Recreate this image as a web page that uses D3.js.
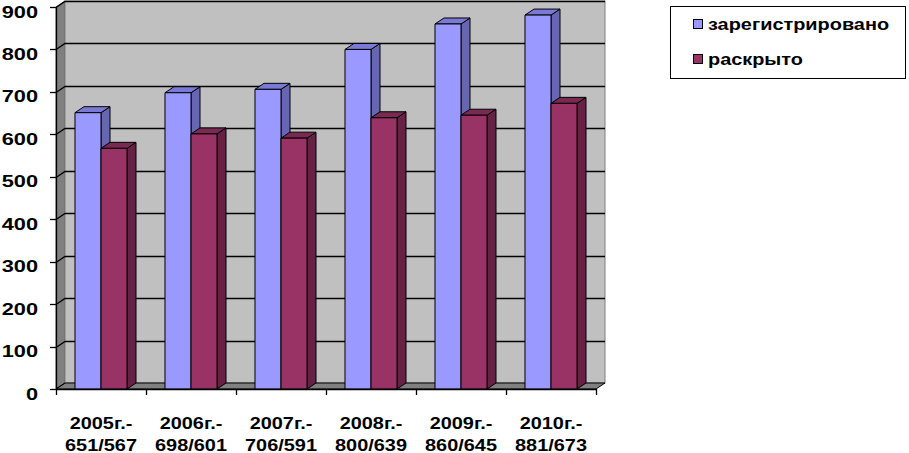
<!DOCTYPE html>
<html><head><meta charset="utf-8">
<script src="https://cdn.jsdelivr.net/npm/d3@7"></script>
<style>
html,body{margin:0;padding:0;background:#fff;}
svg{display:block;}
text{font-family:Arial,"Liberation Sans",sans-serif;font-weight:bold;font-size:17px;fill:#000;}
</style></head>
<body>
<svg id="chart" width="909" height="453"></svg>
<script>
const categoriesLine1 = ["2005г.-","2006г.-","2007г.-","2008г.-","2009г.-","2010г.-"];
const categoriesLine2 = ["651/567","698/601","706/591","800/639","860/645","881/673"];
const registered = [651, 698, 706, 800, 860, 881];
const solved = [567, 601, 591, 639, 645, 673];
const seriesNames = ["зарегистрировано", "раскрыто"];
const yTicks = [0,100,200,300,400,500,600,700,800,900];

const colors = {
  "зарегистрировано": {front:"#9999FF", side:"#6666B3", top:"#7A7AD6"},
  "раскрыто": {front:"#993366", side:"#662244", top:"#7A2952"}
};

const svg = d3.select("#chart");
const DX = 9, DY = -6;
const SX = 1.17;
const SXY = 1.28;

const x0 = d3.scaleBand().domain(d3.range(categoriesLine1.length)).range([56, 596]).padding(0);
const x1 = d3.scaleBand().domain(seriesNames).range([0, x0.bandwidth()]).paddingInner(0).paddingOuter(0.73);
const y = d3.scaleLinear().domain([0, 900]).range([389, 7]);

const left = 56, right = 596, y0 = y(0), yTop = y(900);

// left wall
svg.append("polygon")
  .attr("points", [[left, yTop],[left+DX, yTop+DY],[left+DX, y0+DY],[left, y0]].join(" "))
  .attr("fill", "#808080").attr("stroke", "#555").attr("stroke-width", 1);
// back wall
svg.append("rect")
  .attr("x", left+DX).attr("y", yTop+DY)
  .attr("width", right-left).attr("height", y0-yTop)
  .attr("fill", "#C0C0C0").attr("stroke", "#808080").attr("stroke-width", 1);
// floor
svg.append("polygon")
  .attr("points", [[left, y0],[left+DX, y0+DY],[right+DX, y0+DY],[right, y0]].join(" "))
  .attr("fill", "#808080").attr("stroke", "#000").attr("stroke-width", 1);

// gridlines
const grid = svg.append("g");
yTicks.forEach(t => {
  if (t === 0) return;
  const yy = Math.round(y(t)) + 0.5;
  grid.append("polyline")
    .attr("points", [[left, yy],[left+DX, yy+DY],[right+DX, yy+DY]].join(" "))
    .attr("fill", "none").attr("stroke", "#000").attr("stroke-width", 1.3);
});
grid.append("line").attr("x1", left).attr("y1", y0).attr("x2", left+DX).attr("y2", y0+DY)
  .attr("stroke", "#000").attr("stroke-width", 1);

// y axis
const yAxis = svg.append("g");
yAxis.append("line").attr("x1", left+0.5).attr("x2", left+0.5).attr("y1", yTop).attr("y2", y0)
  .attr("stroke", "#000").attr("stroke-width", 1.3);
yTicks.forEach(t => {
  const yy = Math.round(y(t)) + 0.5;
  yAxis.append("line").attr("x1", left-6).attr("x2", left).attr("y1", yy).attr("y2", yy)
    .attr("stroke", "#000").attr("stroke-width", 1.3);
  yAxis.append("text")
    .attr("transform", `translate(38,${y(t)+10.5}) scale(${SXY},1)`)
    .attr("text-anchor", "end").text(t);
});

// bars
const bars = svg.append("g");
categoriesLine1.forEach((c, i) => {
  const vals = [registered[i], solved[i]];
  seriesNames.forEach((s, j) => {
    const v = vals[j];
    const xa = x0(i) + x1(s), w = x1.bandwidth();
    const yv = y(v);
    const col = colors[s];
    const g = bars.append("g").attr("stroke", "#000").attr("stroke-width", 1).attr("stroke-linejoin", "round");
    g.append("polygon")
      .attr("points", [[xa+w, yv],[xa+w+DX, yv+DY],[xa+w+DX, y0+DY],[xa+w, y0]].join(" "))
      .attr("fill", col.side);
    g.append("polygon")
      .attr("points", [[xa, yv],[xa+DX, yv+DY],[xa+w+DX, yv+DY],[xa+w, yv]].join(" "))
      .attr("fill", col.top);
    g.append("rect").attr("x", xa).attr("y", yv).attr("width", w).attr("height", y0-yv)
      .attr("fill", col.front);
  });
});

// x axis
const xAxis = svg.append("g");
xAxis.append("line").attr("x1", left).attr("x2", right).attr("y1", y0+0.5).attr("y2", y0+0.5)
  .attr("stroke", "#000").attr("stroke-width", 1.3);
d3.range(categoriesLine1.length + 1).forEach(k => {
  const xx = Math.round(left + k * x0.step()) + 0.5;
  xAxis.append("line").attr("x1", xx).attr("x2", xx).attr("y1", y0).attr("y2", y0+6)
    .attr("stroke", "#000").attr("stroke-width", 1.3);
});
categoriesLine1.forEach((c, i) => {
  const cx = x0(i) + x0.bandwidth()/2;
  xAxis.append("text").attr("transform", `translate(${cx},429) scale(${SX},1)`)
    .attr("text-anchor", "middle").text(c);
  xAxis.append("text").attr("transform", `translate(${cx},450.5) scale(${SX},1)`)
    .attr("text-anchor", "middle").text(categoriesLine2[i]);
});

// legend
const legend = svg.append("g");
legend.append("rect").attr("x", 670.5).attr("y", 6.5).attr("width", 235).attr("height", 72)
  .attr("fill", "#fff").attr("stroke", "#000").attr("stroke-width", 1);
const legY = [30, 65];
seriesNames.forEach((s, j) => {
  legend.append("rect").attr("x", 693.5).attr("y", legY[j]-10.5).attr("width", 9).attr("height", 9)
    .attr("fill", colors[s].front).attr("stroke", "#000").attr("stroke-width", 1);
  legend.append("text").attr("transform", `translate(708,${legY[j]}) scale(${SX},1)`)
    .text(s);
});
</script>
</body></html>
